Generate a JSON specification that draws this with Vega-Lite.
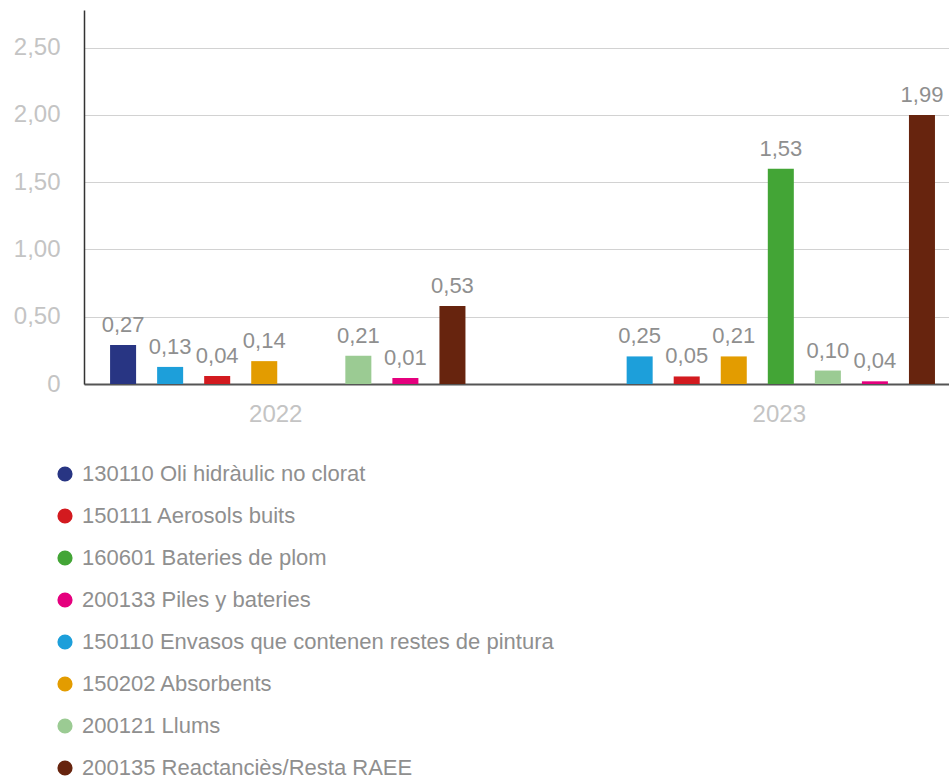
{
  "$schema": "https://vega.github.io/schema/vega-lite/v6.json",
  "width": 865,
  "height": 374,
  "autosize": {"type": "none"},
  "padding": {"left": 84, "top": 10, "right": 0, "bottom": 396},
  "background": "white",
  "config": {
    "view": {"stroke": null},
    "font": "Liberation Sans"
  },
  "data": {
    "values": [
      {"any": "2022", "codi": "130110", "residu": "130110 Oli hidràulic no clorat", "valor": 0.29, "etiqueta": "0,27"},
      {"any": "2022", "codi": "150110", "residu": "150110 Envasos que contenen restes de pintura", "valor": 0.127, "etiqueta": "0,13"},
      {"any": "2022", "codi": "150111", "residu": "150111 Aerosols buits", "valor": 0.06, "etiqueta": "0,04"},
      {"any": "2022", "codi": "150202", "residu": "150202 Absorbents", "valor": 0.17, "etiqueta": "0,14"},
      {"any": "2022", "codi": "200121", "residu": "200121 Llums", "valor": 0.21, "etiqueta": "0,21"},
      {"any": "2022", "codi": "200133", "residu": "200133 Piles y bateries", "valor": 0.045, "etiqueta": "0,01"},
      {"any": "2022", "codi": "200135", "residu": "200135 Reactanciès/Resta RAEE", "valor": 0.58, "etiqueta": "0,53"},
      {"any": "2023", "codi": "150110", "residu": "150110 Envasos que contenen restes de pintura", "valor": 0.205, "etiqueta": "0,25"},
      {"any": "2023", "codi": "150111", "residu": "150111 Aerosols buits", "valor": 0.056, "etiqueta": "0,05"},
      {"any": "2023", "codi": "150202", "residu": "150202 Absorbents", "valor": 0.205, "etiqueta": "0,21"},
      {"any": "2023", "codi": "160601", "residu": "160601 Bateries de plom", "valor": 1.6, "etiqueta": "1,53"},
      {"any": "2023", "codi": "200121", "residu": "200121 Llums", "valor": 0.1, "etiqueta": "0,10"},
      {"any": "2023", "codi": "200133", "residu": "200133 Piles y bateries", "valor": 0.02, "etiqueta": "0,04"},
      {"any": "2023", "codi": "200135", "residu": "200135 Reactanciès/Resta RAEE", "valor": 2.0, "etiqueta": "1,99"}
    ]
  },
  "encoding": {
    "x": {
      "field": "any",
      "type": "nominal",
      "scale": {"paddingInner": 0.1983, "paddingOuter": 0.0203, "align": 0.816},
      "axis": {
        "title": null,
        "labelAngle": 0,
        "labelFontSize": 24,
        "labelColor": "#c4c4c4",
        "labelPadding": 18,
        "ticks": false,
        "domainColor": "#555555",
        "domainWidth": 2,
        "labelOffset": {"condition": {"test": "datum.label == '2022'", "value": -12}, "value": 22}
      }
    },
    "xOffset": {
      "field": "codi",
      "type": "nominal",
      "sort": ["130110", "150110", "150111", "150202", "160601", "200121", "200133", "200135"],
      "scale": {"domain": ["130110", "150110", "150111", "150202", "160601", "200121", "200133", "200135"], "paddingInner": 0.447, "paddingOuter": 0.2235}
    },
    "y": {
      "field": "valor",
      "type": "quantitative",
      "scale": {"domain": [0, 2.78], "nice": false},
      "axis": {
        "title": null,
        "values": [0, 0.5, 1, 1.5, 2, 2.5],
        "labelExpr": "datum.value == 0 ? '0' : replace(format(datum.value, '.2f'), '.', ',')",
        "labelFontSize": 24,
        "labelColor": "#c4c4c4",
        "labelPadding": 24,
        "ticks": false,
        "domainColor": "#333333",
        "domainWidth": 1.5,
        "gridColor": "#d2d2d2",
        "gridWidth": 1.2
      }
    }
  },
  "layer": [
    {
      "mark": {"type": "bar"},
      "encoding": {
        "color": {
          "field": "residu",
          "type": "nominal",
          "scale": {
            "domain": [
              "130110 Oli hidràulic no clorat",
              "150111 Aerosols buits",
              "160601 Bateries de plom",
              "200133 Piles y bateries",
              "150110 Envasos que contenen restes de pintura",
              "150202 Absorbents",
              "200121 Llums",
              "200135 Reactanciès/Resta RAEE"
            ],
            "range": ["#283583", "#d31a1f", "#43a536", "#e5007e", "#1d9fda", "#e39c00", "#9bcb93", "#67240e"]
          },
          "legend": {
            "title": null,
            "orient": "none",
            "legendX": -30,
            "legendY": 453,
            "direction": "vertical",
            "symbolType": "circle",
            "symbolSize": 230,
            "symbolStrokeWidth": 0,
            "labelFontSize": 22,
            "labelColor": "#8f8f8f",
            "labelOffset": 6,
            "rowPadding": 20,
            "labelLimit": 800,
            "padding": 0
          }
        }
      }
    },
    {
      "mark": {"type": "text", "baseline": "alphabetic", "dy": -13, "fontSize": 22, "color": "#8f8f8f"},
      "encoding": {
        "text": {"field": "etiqueta"}
      }
    }
  ]
}
